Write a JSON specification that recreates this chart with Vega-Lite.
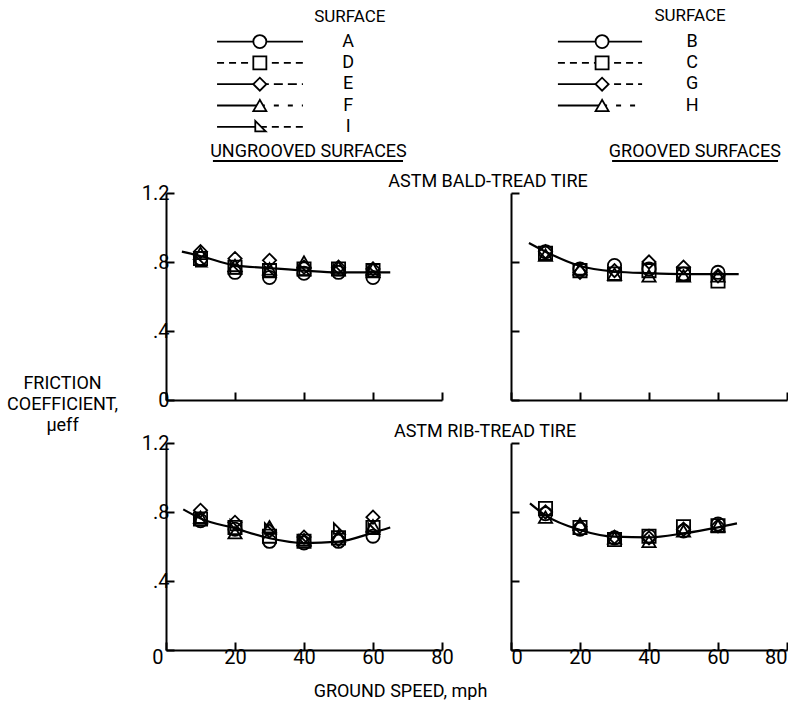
{
  "$schema": "https://vega.github.io/schema/vega-lite/v6.json",
  "background": "white",
  "padding": {"left": 6, "top": 0, "right": 0, "bottom": 0},
  "bounds": "flush",
  "columns": 2,
  "spacing": {"row": 43, "column": 69},
  "config": {
    "view": {"stroke": null},
    "font": "Roboto, sans-serif",
    "axis": {"domainColor": "black", "domainWidth": 2, "tickColor": "black", "tickWidth": 2, "tickSize": -8, "grid": false, "labelColor": "black", "labelFontSize": 20, "labelPadding": 5, "titleColor": "black", "titleFontWeight": "normal", "titleFontSize": 18},
    "title": {"fontSize": 18, "fontWeight": "normal", "color": "black", "frame": "group"},
    "text": {"color": "black", "fontSize": 18}
  },
  "datasets": {
    "leg": [
      {"group": "ungrooved", "surface": "A", "rank": 1, "left": "solid", "right": "solid"},
      {"group": "ungrooved", "surface": "D", "rank": 2, "left": "dash", "right": "dash"},
      {"group": "ungrooved", "surface": "E", "rank": 3, "left": "solid", "right": "ldash"},
      {"group": "ungrooved", "surface": "F", "rank": 4, "left": "solid", "right": "sparse"},
      {"group": "ungrooved", "surface": "I", "rank": 5, "left": "solid", "right": "dash"},
      {"group": "grooved", "surface": "B", "rank": 1, "left": "solid", "right": "solid"},
      {"group": "grooved", "surface": "C", "rank": 2, "left": "dash", "right": "dash"},
      {"group": "grooved", "surface": "G", "rank": 3, "left": "solid", "right": "dash"},
      {"group": "grooved", "surface": "H", "rank": 4, "left": "solid", "right": "sparse"}
    ],
    "fair": [
      {"tire": "bald", "group": "ungrooved", "speed": 4.6, "mu": 0.86},
      {"tire": "bald", "group": "ungrooved", "speed": 10, "mu": 0.835},
      {"tire": "bald", "group": "ungrooved", "speed": 20, "mu": 0.78},
      {"tire": "bald", "group": "ungrooved", "speed": 30, "mu": 0.765},
      {"tire": "bald", "group": "ungrooved", "speed": 40, "mu": 0.75},
      {"tire": "bald", "group": "ungrooved", "speed": 50, "mu": 0.74},
      {"tire": "bald", "group": "ungrooved", "speed": 60, "mu": 0.74},
      {"tire": "bald", "group": "ungrooved", "speed": 65, "mu": 0.74},
      {"tire": "bald", "group": "grooved", "speed": 5.2, "mu": 0.91},
      {"tire": "bald", "group": "grooved", "speed": 10, "mu": 0.86},
      {"tire": "bald", "group": "grooved", "speed": 20, "mu": 0.777},
      {"tire": "bald", "group": "grooved", "speed": 30, "mu": 0.745},
      {"tire": "bald", "group": "grooved", "speed": 40, "mu": 0.735},
      {"tire": "bald", "group": "grooved", "speed": 50, "mu": 0.73},
      {"tire": "bald", "group": "grooved", "speed": 60, "mu": 0.73},
      {"tire": "bald", "group": "grooved", "speed": 66, "mu": 0.73},
      {"tire": "rib", "group": "ungrooved", "speed": 5, "mu": 0.815},
      {"tire": "rib", "group": "ungrooved", "speed": 10, "mu": 0.763},
      {"tire": "rib", "group": "ungrooved", "speed": 20, "mu": 0.705},
      {"tire": "rib", "group": "ungrooved", "speed": 30, "mu": 0.648},
      {"tire": "rib", "group": "ungrooved", "speed": 40, "mu": 0.62},
      {"tire": "rib", "group": "ungrooved", "speed": 50, "mu": 0.628},
      {"tire": "rib", "group": "ungrooved", "speed": 60, "mu": 0.68},
      {"tire": "rib", "group": "ungrooved", "speed": 65, "mu": 0.71},
      {"tire": "rib", "group": "grooved", "speed": 5.5, "mu": 0.85},
      {"tire": "rib", "group": "grooved", "speed": 10, "mu": 0.78},
      {"tire": "rib", "group": "grooved", "speed": 20, "mu": 0.696},
      {"tire": "rib", "group": "grooved", "speed": 30, "mu": 0.657},
      {"tire": "rib", "group": "grooved", "speed": 40, "mu": 0.653},
      {"tire": "rib", "group": "grooved", "speed": 50, "mu": 0.676},
      {"tire": "rib", "group": "grooved", "speed": 60, "mu": 0.711},
      {"tire": "rib", "group": "grooved", "speed": 65.5, "mu": 0.734}
    ],
    "pts": [
      {"tire": "bald", "surface": "A", "speed": 10, "mu": 0.82},
      {"tire": "bald", "surface": "A", "speed": 20, "mu": 0.74},
      {"tire": "bald", "surface": "A", "speed": 30, "mu": 0.71},
      {"tire": "bald", "surface": "A", "speed": 40, "mu": 0.735},
      {"tire": "bald", "surface": "A", "speed": 50, "mu": 0.74},
      {"tire": "bald", "surface": "A", "speed": 60, "mu": 0.71},
      {"tire": "bald", "surface": "D", "speed": 10, "mu": 0.82},
      {"tire": "bald", "surface": "D", "speed": 20, "mu": 0.77},
      {"tire": "bald", "surface": "D", "speed": 30, "mu": 0.75},
      {"tire": "bald", "surface": "D", "speed": 40, "mu": 0.76},
      {"tire": "bald", "surface": "D", "speed": 50, "mu": 0.76},
      {"tire": "bald", "surface": "D", "speed": 60, "mu": 0.75},
      {"tire": "bald", "surface": "E", "speed": 10, "mu": 0.86},
      {"tire": "bald", "surface": "E", "speed": 20, "mu": 0.82},
      {"tire": "bald", "surface": "E", "speed": 30, "mu": 0.81},
      {"tire": "bald", "surface": "E", "speed": 40, "mu": 0.77},
      {"tire": "bald", "surface": "E", "speed": 50, "mu": 0.77},
      {"tire": "bald", "surface": "E", "speed": 60, "mu": 0.76},
      {"tire": "bald", "surface": "F", "speed": 10, "mu": 0.85},
      {"tire": "bald", "surface": "F", "speed": 20, "mu": 0.78},
      {"tire": "bald", "surface": "F", "speed": 30, "mu": 0.76},
      {"tire": "bald", "surface": "F", "speed": 40, "mu": 0.8},
      {"tire": "bald", "surface": "F", "speed": 50, "mu": 0.77},
      {"tire": "bald", "surface": "F", "speed": 60, "mu": 0.76},
      {"tire": "bald", "surface": "I", "speed": 10, "mu": 0.8},
      {"tire": "bald", "surface": "I", "speed": 20, "mu": 0.76},
      {"tire": "bald", "surface": "I", "speed": 30, "mu": 0.74},
      {"tire": "bald", "surface": "I", "speed": 40, "mu": 0.75},
      {"tire": "bald", "surface": "I", "speed": 50, "mu": 0.75},
      {"tire": "bald", "surface": "I", "speed": 60, "mu": 0.74},
      {"tire": "bald", "surface": "B", "speed": 10, "mu": 0.86},
      {"tire": "bald", "surface": "B", "speed": 20, "mu": 0.76},
      {"tire": "bald", "surface": "B", "speed": 30, "mu": 0.78},
      {"tire": "bald", "surface": "B", "speed": 40, "mu": 0.76},
      {"tire": "bald", "surface": "B", "speed": 50, "mu": 0.73},
      {"tire": "bald", "surface": "B", "speed": 60, "mu": 0.74},
      {"tire": "bald", "surface": "C", "speed": 10, "mu": 0.85},
      {"tire": "bald", "surface": "C", "speed": 20, "mu": 0.75},
      {"tire": "bald", "surface": "C", "speed": 30, "mu": 0.73},
      {"tire": "bald", "surface": "C", "speed": 40, "mu": 0.75},
      {"tire": "bald", "surface": "C", "speed": 50, "mu": 0.73},
      {"tire": "bald", "surface": "C", "speed": 60, "mu": 0.69},
      {"tire": "bald", "surface": "G", "speed": 10, "mu": 0.86},
      {"tire": "bald", "surface": "G", "speed": 20, "mu": 0.74},
      {"tire": "bald", "surface": "G", "speed": 30, "mu": 0.75},
      {"tire": "bald", "surface": "G", "speed": 40, "mu": 0.8},
      {"tire": "bald", "surface": "G", "speed": 50, "mu": 0.77},
      {"tire": "bald", "surface": "G", "speed": 60, "mu": 0.72},
      {"tire": "bald", "surface": "H", "speed": 10, "mu": 0.84},
      {"tire": "bald", "surface": "H", "speed": 20, "mu": 0.76},
      {"tire": "bald", "surface": "H", "speed": 30, "mu": 0.73},
      {"tire": "bald", "surface": "H", "speed": 40, "mu": 0.72},
      {"tire": "bald", "surface": "H", "speed": 50, "mu": 0.72},
      {"tire": "bald", "surface": "H", "speed": 60, "mu": 0.72},
      {"tire": "rib", "surface": "A", "speed": 10, "mu": 0.75},
      {"tire": "rib", "surface": "A", "speed": 20, "mu": 0.7},
      {"tire": "rib", "surface": "A", "speed": 30, "mu": 0.63},
      {"tire": "rib", "surface": "A", "speed": 40, "mu": 0.62},
      {"tire": "rib", "surface": "A", "speed": 50, "mu": 0.63},
      {"tire": "rib", "surface": "A", "speed": 60, "mu": 0.66},
      {"tire": "rib", "surface": "D", "speed": 10, "mu": 0.76},
      {"tire": "rib", "surface": "D", "speed": 20, "mu": 0.71},
      {"tire": "rib", "surface": "D", "speed": 30, "mu": 0.66},
      {"tire": "rib", "surface": "D", "speed": 40, "mu": 0.63},
      {"tire": "rib", "surface": "D", "speed": 50, "mu": 0.65},
      {"tire": "rib", "surface": "D", "speed": 60, "mu": 0.71},
      {"tire": "rib", "surface": "E", "speed": 10, "mu": 0.81},
      {"tire": "rib", "surface": "E", "speed": 20, "mu": 0.74},
      {"tire": "rib", "surface": "E", "speed": 30, "mu": 0.69},
      {"tire": "rib", "surface": "E", "speed": 40, "mu": 0.655},
      {"tire": "rib", "surface": "E", "speed": 50, "mu": 0.64},
      {"tire": "rib", "surface": "E", "speed": 60, "mu": 0.77},
      {"tire": "rib", "surface": "F", "speed": 10, "mu": 0.77},
      {"tire": "rib", "surface": "F", "speed": 20, "mu": 0.68},
      {"tire": "rib", "surface": "F", "speed": 30, "mu": 0.715},
      {"tire": "rib", "surface": "F", "speed": 40, "mu": 0.64},
      {"tire": "rib", "surface": "F", "speed": 50, "mu": 0.66},
      {"tire": "rib", "surface": "F", "speed": 60, "mu": 0.72},
      {"tire": "rib", "surface": "I", "speed": 10, "mu": 0.76},
      {"tire": "rib", "surface": "I", "speed": 20, "mu": 0.72},
      {"tire": "rib", "surface": "I", "speed": 30, "mu": 0.7},
      {"tire": "rib", "surface": "I", "speed": 40, "mu": 0.63},
      {"tire": "rib", "surface": "I", "speed": 50, "mu": 0.7},
      {"tire": "rib", "surface": "I", "speed": 60, "mu": 0.7},
      {"tire": "rib", "surface": "B", "speed": 10, "mu": 0.79},
      {"tire": "rib", "surface": "B", "speed": 20, "mu": 0.7},
      {"tire": "rib", "surface": "B", "speed": 30, "mu": 0.65},
      {"tire": "rib", "surface": "B", "speed": 40, "mu": 0.66},
      {"tire": "rib", "surface": "B", "speed": 50, "mu": 0.69},
      {"tire": "rib", "surface": "B", "speed": 60, "mu": 0.73},
      {"tire": "rib", "surface": "C", "speed": 10, "mu": 0.82},
      {"tire": "rib", "surface": "C", "speed": 20, "mu": 0.71},
      {"tire": "rib", "surface": "C", "speed": 30, "mu": 0.64},
      {"tire": "rib", "surface": "C", "speed": 40, "mu": 0.66},
      {"tire": "rib", "surface": "C", "speed": 50, "mu": 0.715},
      {"tire": "rib", "surface": "C", "speed": 60, "mu": 0.72},
      {"tire": "rib", "surface": "G", "speed": 10, "mu": 0.8},
      {"tire": "rib", "surface": "G", "speed": 20, "mu": 0.715},
      {"tire": "rib", "surface": "G", "speed": 30, "mu": 0.655},
      {"tire": "rib", "surface": "G", "speed": 40, "mu": 0.65},
      {"tire": "rib", "surface": "G", "speed": 50, "mu": 0.7},
      {"tire": "rib", "surface": "G", "speed": 60, "mu": 0.72},
      {"tire": "rib", "surface": "H", "speed": 10, "mu": 0.77},
      {"tire": "rib", "surface": "H", "speed": 20, "mu": 0.73},
      {"tire": "rib", "surface": "H", "speed": 30, "mu": 0.65},
      {"tire": "rib", "surface": "H", "speed": 40, "mu": 0.63},
      {"tire": "rib", "surface": "H", "speed": 50, "mu": 0.69},
      {"tire": "rib", "surface": "H", "speed": 60, "mu": 0.72}
    ]
  },
  "concat": [
    {
      "width": 276, "height": 150,
      "layer": [
        {"data": {"name": "leg"}, "transform": [{"filter": "datum.group == 'ungrooved'"}],
         "mark": {"type": "rule", "color": "black", "strokeWidth": 1.8},
         "encoding": {
           "x": {"datum": 14.8, "type": "quantitative", "scale": {"domain": [0, 80], "nice": false, "zero": false}, "axis": null},
           "x2": {"datum": 27.2},
           "y": {"field": "rank", "type": "quantitative", "scale": {"domain": [-0.953, 6.089], "reverse": true, "nice": false, "zero": false}, "axis": null},
           "strokeDash": {"field": "left", "type": "nominal", "scale": {"domain": ["solid", "dash", "ldash", "sparse"], "range": [[1, 0], [7, 5], [9, 5], [5, 9]]}, "legend": null}
         }},
        {"data": {"name": "leg"}, "transform": [{"filter": "datum.group == 'ungrooved'"}],
         "mark": {"type": "rule", "color": "black", "strokeWidth": 1.8},
         "encoding": {
           "x": {"datum": 27.2, "type": "quantitative"},
           "x2": {"datum": 39.7},
           "y": {"field": "rank", "type": "quantitative"},
           "strokeDash": {"field": "right", "type": "nominal", "scale": {"domain": ["solid", "dash", "ldash", "sparse"], "range": [[1, 0], [7, 5], [9, 5], [5, 9]]}, "legend": null}
         }},
        {"data": {"name": "leg"}, "transform": [{"filter": "datum.group == 'ungrooved'"}],
         "mark": {"type": "point", "filled": true, "fill": "white", "stroke": "black", "strokeWidth": 1.8, "size": 170, "opacity": 1},
         "encoding": {
           "x": {"datum": 27.2, "type": "quantitative"},
           "y": {"field": "rank", "type": "quantitative"},
           "shape": {"field": "surface", "type": "nominal", "scale": {"domain": ["A", "B", "C", "D", "E", "F", "G", "H", "I"], "range": ["circle", "circle", "square", "square", "diamond", "triangle-up", "diamond", "triangle-up", "M-0.7,-0.9L-0.7,0.7L0.9,0.7Z"]}, "legend": null}
         }},
        {"data": {"name": "leg"}, "transform": [{"filter": "datum.group == 'ungrooved'"}],
         "mark": {"type": "text", "align": "center", "baseline": "middle", "fontSize": 18},
         "encoding": {
           "x": {"datum": 52.8, "type": "quantitative"},
           "y": {"field": "rank", "type": "quantitative"},
           "text": {"field": "surface"}
         }},
        {"data": {"values": [{"t": "SURFACE"}]},
         "mark": {"type": "text", "align": "center", "baseline": "middle", "fontSize": 17},
         "encoding": {"x": {"datum": 53.3, "type": "quantitative"}, "y": {"datum": -0.155, "type": "quantitative"}, "text": {"field": "t"}}},
        {"data": {"values": [{"t": "UNGROOVED SURFACES"}]},
         "mark": {"type": "text", "align": "center", "baseline": "middle", "fontSize": 18},
         "encoding": {"x": {"datum": 41.3, "type": "quantitative"}, "y": {"datum": 6.2, "type": "quantitative"}, "text": {"field": "t"}}},
        {"data": {"values": [{"t": "u"}]},
         "mark": {"type": "rule", "color": "black", "strokeWidth": 2},
         "encoding": {"x": {"datum": 13.6, "type": "quantitative"}, "x2": {"datum": 68.7}, "y": {"datum": 6.606, "type": "quantitative"}}}
      ]
    },
    {
      "width": 276, "height": 150,
      "layer": [
        {"data": {"name": "leg"}, "transform": [{"filter": "datum.group == 'grooved'"}],
         "mark": {"type": "rule", "color": "black", "strokeWidth": 1.8},
         "encoding": {
           "x": {"datum": 13.6, "type": "quantitative", "scale": {"domain": [0, 80], "nice": false, "zero": false}, "axis": null},
           "x2": {"datum": 26.4},
           "y": {"field": "rank", "type": "quantitative", "scale": {"domain": [-0.953, 6.089], "reverse": true, "nice": false, "zero": false}, "axis": null},
           "strokeDash": {"field": "left", "type": "nominal", "scale": {"domain": ["solid", "dash", "ldash", "sparse"], "range": [[1, 0], [7, 5], [9, 5], [5, 9]]}, "legend": null}
         }},
        {"data": {"name": "leg"}, "transform": [{"filter": "datum.group == 'grooved'"}],
         "mark": {"type": "rule", "color": "black", "strokeWidth": 1.8},
         "encoding": {
           "x": {"datum": 26.4, "type": "quantitative"},
           "x2": {"datum": 38.0},
           "y": {"field": "rank", "type": "quantitative"},
           "strokeDash": {"field": "right", "type": "nominal", "scale": {"domain": ["solid", "dash", "ldash", "sparse"], "range": [[1, 0], [7, 5], [9, 5], [5, 9]]}, "legend": null}
         }},
        {"data": {"name": "leg"}, "transform": [{"filter": "datum.group == 'grooved'"}],
         "mark": {"type": "point", "filled": true, "fill": "white", "stroke": "black", "strokeWidth": 1.8, "size": 170, "opacity": 1},
         "encoding": {
           "x": {"datum": 26.4, "type": "quantitative"},
           "y": {"field": "rank", "type": "quantitative"},
           "shape": {"field": "surface", "type": "nominal", "scale": {"domain": ["A", "B", "C", "D", "E", "F", "G", "H", "I"], "range": ["circle", "circle", "square", "square", "diamond", "triangle-up", "diamond", "triangle-up", "M-0.7,-0.9L-0.7,0.7L0.9,0.7Z"]}, "legend": null}
         }},
        {"data": {"name": "leg"}, "transform": [{"filter": "datum.group == 'grooved'"}],
         "mark": {"type": "text", "align": "center", "baseline": "middle", "fontSize": 18},
         "encoding": {
           "x": {"datum": 52.5, "type": "quantitative"},
           "y": {"field": "rank", "type": "quantitative"},
           "text": {"field": "surface"}
         }},
        {"data": {"values": [{"t": "SURFACE"}]},
         "mark": {"type": "text", "align": "center", "baseline": "middle", "fontSize": 17},
         "encoding": {"x": {"datum": 51.9, "type": "quantitative"}, "y": {"datum": -0.2, "type": "quantitative"}, "text": {"field": "t"}}},
        {"data": {"values": [{"t": "GROOVED SURFACES"}]},
         "mark": {"type": "text", "align": "center", "baseline": "middle", "fontSize": 18},
         "encoding": {"x": {"datum": 53.3, "type": "quantitative"}, "y": {"datum": 6.2, "type": "quantitative"}, "text": {"field": "t"}}},
        {"data": {"values": [{"t": "u"}]},
         "mark": {"type": "rule", "color": "black", "strokeWidth": 2},
         "encoding": {"x": {"datum": 29.3, "type": "quantitative"}, "x2": {"datum": 77.4}, "y": {"datum": 6.606, "type": "quantitative"}}}
      ]
    },
    {
      "width": 276, "height": 207,
      "title": {"text": "ASTM BALD-TREAD TIRE", "anchor": "middle", "dx": 184, "offset": -26, "baseline": "bottom"},
      "layer": [
        {"data": {"name": "fair"}, "transform": [{"filter": "datum.tire == 'bald' && datum.group == 'ungrooved'"}],
         "mark": {"type": "line", "interpolate": "monotone", "color": "black", "strokeWidth": 2.2},
         "encoding": {
           "x": {"field": "speed", "type": "quantitative", "scale": {"domain": [0, 80], "nice": false}, "axis": {"values": [0, 20, 40, 60, 80], "labels": false, "title": null}},
           "y": {"field": "mu", "type": "quantitative", "scale": {"domain": [0, 1.2], "nice": false}, "axis": {"values": [0, 0.4, 0.8, 1.2], "labelExpr": "datum.value == 0 ? '0' : datum.value == 1.2 ? '1.2' : datum.value == 0.8 ? '.8' : '.4'", "title": ["FRICTION", "COEFFICIENT,", "μeff"], "titleAngle": 0, "titleX": -104, "titleY": 181, "titleAlign": "center", "titleBaseline": "top", "titleLineHeight": 21}}
         }},
        {"data": {"name": "pts"}, "transform": [{"filter": "datum.tire == 'bald' && indexof('ADEFI', datum.surface) >= 0"}],
         "mark": {"type": "point", "filled": false, "color": "black", "strokeWidth": 1.8, "size": 175, "opacity": 1},
         "encoding": {
           "x": {"field": "speed", "type": "quantitative"},
           "y": {"field": "mu", "type": "quantitative"},
           "shape": {"field": "surface", "type": "nominal", "scale": {"domain": ["A", "B", "C", "D", "E", "F", "G", "H", "I"], "range": ["circle", "circle", "square", "square", "diamond", "triangle-up", "diamond", "triangle-up", "M-0.7,-0.9L-0.7,0.7L0.9,0.7Z"]}, "legend": null}
         }}
      ]
    },
    {
      "width": 276, "height": 207,
      "layer": [
        {"data": {"name": "fair"}, "transform": [{"filter": "datum.tire == 'bald' && datum.group == 'grooved'"}],
         "mark": {"type": "line", "interpolate": "monotone", "color": "black", "strokeWidth": 2.2},
         "encoding": {
           "x": {"field": "speed", "type": "quantitative", "scale": {"domain": [0, 80], "nice": false}, "axis": {"values": [0, 20, 40, 60, 80], "labels": false, "title": null}},
           "y": {"field": "mu", "type": "quantitative", "scale": {"domain": [0, 1.2], "nice": false}, "axis": {"values": [0, 0.4, 0.8, 1.2], "labels": false, "title": null}}
         }},
        {"data": {"name": "pts"}, "transform": [{"filter": "datum.tire == 'bald' && indexof('BCGH', datum.surface) >= 0"}],
         "mark": {"type": "point", "filled": false, "color": "black", "strokeWidth": 1.8, "size": 175, "opacity": 1},
         "encoding": {
           "x": {"field": "speed", "type": "quantitative"},
           "y": {"field": "mu", "type": "quantitative"},
           "shape": {"field": "surface", "type": "nominal", "scale": {"domain": ["A", "B", "C", "D", "E", "F", "G", "H", "I"], "range": ["circle", "circle", "square", "square", "diamond", "triangle-up", "diamond", "triangle-up", "M-0.7,-0.9L-0.7,0.7L0.9,0.7Z"]}, "legend": null}
         }}
      ]
    },
    {
      "width": 276, "height": 207,
      "title": {"text": "ASTM RIB-TREAD TIRE", "anchor": "middle", "dx": 181, "offset": -26, "baseline": "bottom"},
      "layer": [
        {"data": {"name": "fair"}, "transform": [{"filter": "datum.tire == 'rib' && datum.group == 'ungrooved'"}],
         "mark": {"type": "line", "interpolate": "monotone", "color": "black", "strokeWidth": 2.2},
         "encoding": {
           "x": {"field": "speed", "type": "quantitative", "scale": {"domain": [0, 80], "nice": false}, "axis": {"values": [0, 20, 40, 60, 80], "labelAlign": {"expr": "datum.value == 0 ? 'right' : 'center'"}, "labelOffset": {"expr": "datum.value == 0 ? -3 : 0"}, "title": "GROUND SPEED, mph", "titleX": 234, "titleY": 46, "titleAlign": "center", "titleBaseline": "alphabetic"}},
           "y": {"field": "mu", "type": "quantitative", "scale": {"domain": [0, 1.2], "nice": false}, "axis": {"values": [0, 0.4, 0.8, 1.2], "labelExpr": "datum.value == 0 ? '' : datum.value == 1.2 ? '1.2' : datum.value == 0.8 ? '.8' : '.4'", "title": null}}
         }},
        {"data": {"name": "pts"}, "transform": [{"filter": "datum.tire == 'rib' && indexof('ADEFI', datum.surface) >= 0"}],
         "mark": {"type": "point", "filled": false, "color": "black", "strokeWidth": 1.8, "size": 175, "opacity": 1},
         "encoding": {
           "x": {"field": "speed", "type": "quantitative"},
           "y": {"field": "mu", "type": "quantitative"},
           "shape": {"field": "surface", "type": "nominal", "scale": {"domain": ["A", "B", "C", "D", "E", "F", "G", "H", "I"], "range": ["circle", "circle", "square", "square", "diamond", "triangle-up", "diamond", "triangle-up", "M-0.7,-0.9L-0.7,0.7L0.9,0.7Z"]}, "legend": null}
         }}
      ]
    },
    {
      "width": 276, "height": 207,
      "layer": [
        {"data": {"name": "fair"}, "transform": [{"filter": "datum.tire == 'rib' && datum.group == 'grooved'"}],
         "mark": {"type": "line", "interpolate": "monotone", "color": "black", "strokeWidth": 2.2},
         "encoding": {
           "x": {"field": "speed", "type": "quantitative", "scale": {"domain": [0, 80], "nice": false}, "axis": {"values": [0, 20, 40, 60, 80], "title": null}},
           "y": {"field": "mu", "type": "quantitative", "scale": {"domain": [0, 1.2], "nice": false}, "axis": {"values": [0, 0.4, 0.8, 1.2], "labels": false, "title": null}}
         }},
        {"data": {"name": "pts"}, "transform": [{"filter": "datum.tire == 'rib' && indexof('BCGH', datum.surface) >= 0"}],
         "mark": {"type": "point", "filled": false, "color": "black", "strokeWidth": 1.8, "size": 175, "opacity": 1},
         "encoding": {
           "x": {"field": "speed", "type": "quantitative"},
           "y": {"field": "mu", "type": "quantitative"},
           "shape": {"field": "surface", "type": "nominal", "scale": {"domain": ["A", "B", "C", "D", "E", "F", "G", "H", "I"], "range": ["circle", "circle", "square", "square", "diamond", "triangle-up", "diamond", "triangle-up", "M-0.7,-0.9L-0.7,0.7L0.9,0.7Z"]}, "legend": null}
         }}
      ]
    }
  ]
}
